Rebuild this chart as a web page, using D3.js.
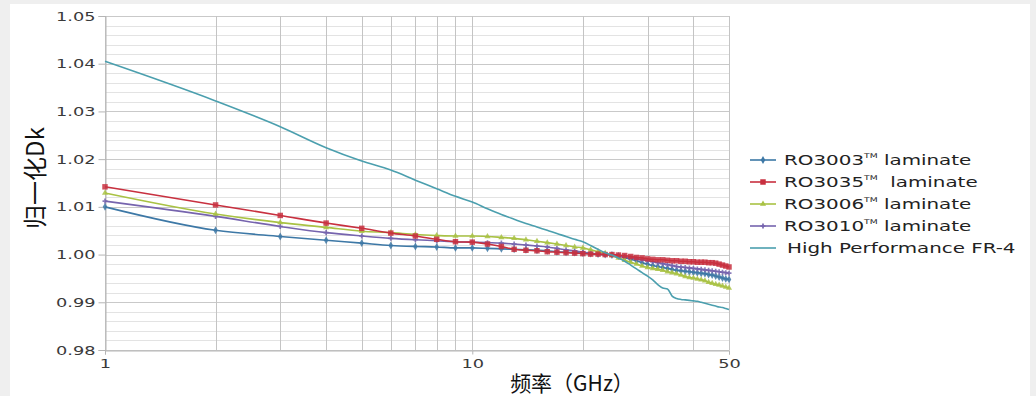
<!DOCTYPE html>
<html><head><meta charset="utf-8">
<script src="https://cdn.jsdelivr.net/npm/d3@7"></script>
<style>
body{margin:0;background:#efefef;}
svg{display:block;}
text{white-space:pre;}
</style></head>
<body><svg id="c" width="1036" height="396"></svg>
<script>
// ---------- data ----------
const freq = [1,2,3,4,5,6,7,8,9,10,11,12,13,14,15,16,17,18,19,20,21,22,23,24,25,26,27,28,29,30,31,32,33,34,35,36,37,38,39,40,41,42,43,44,45,46,47,48,49,50];
const ro3003 = [1.0100,1.0051,1.0038,1.0030,1.0024,1.0019,1.0017,1.0016,1.0014,1.0014,1.0013,1.0012,1.0011,1.0010,1.0009,1.0008,1.0006,1.0005,1.0004,1.0003,1.0002,1.0001,1.0000,0.9999,0.9997,0.9994,0.9990,0.9987,0.9983,0.9980,0.9977,0.9975,0.9973,0.9971,0.9969,0.9967,0.9966,0.9965,0.9964,0.9963,0.9962,0.9961,0.9960,0.9958,0.9957,0.9955,0.9953,0.9951,0.9949,0.9948];
const ro3035 = [1.0142,1.0104,1.0082,1.0066,1.0055,1.0045,1.0039,1.0032,1.0027,1.0026,1.0022,1.0017,1.0011,1.0009,1.0008,1.0006,1.0005,1.0004,1.0003,1.0002,1.0001,1.0001,1.0000,1.0000,0.9999,0.9998,0.9996,0.9994,0.9993,0.9991,0.9990,0.9989,0.9989,0.9988,0.9987,0.9987,0.9986,0.9986,0.9985,0.9985,0.9984,0.9984,0.9984,0.9983,0.9983,0.9982,0.9980,0.9978,0.9976,0.9974];
const ro3006 = [1.0129,1.0085,1.0067,1.0057,1.0049,1.0046,1.0042,1.0040,1.0039,1.0039,1.0038,1.0036,1.0034,1.0031,1.0028,1.0025,1.0022,1.0019,1.0016,1.0014,1.0010,1.0006,1.0003,0.9998,0.9993,0.9988,0.9984,0.9980,0.9976,0.9973,0.9971,0.9969,0.9967,0.9964,0.9962,0.9960,0.9957,0.9954,0.9952,0.9951,0.9949,0.9947,0.9945,0.9942,0.9940,0.9938,0.9936,0.9934,0.9932,0.9930];
const ro3010 = [1.0112,1.0080,1.0059,1.0046,1.0039,1.0034,1.0031,1.0029,1.0027,1.0026,1.0025,1.0024,1.0022,1.0020,1.0018,1.0016,1.0013,1.0010,1.0008,1.0005,1.0003,1.0001,1.0000,0.9999,0.9997,0.9995,0.9993,0.9991,0.9989,0.9987,0.9985,0.9983,0.9981,0.9979,0.9977,0.9975,0.9974,0.9973,0.9972,0.9971,0.9970,0.9969,0.9968,0.9967,0.9966,0.9965,0.9964,0.9963,0.9962,0.9961];
const fr4 = [1.0405,1.0322,1.0268,1.0224,1.0196,1.0177,1.0156,1.0138,1.0122,1.0110,1.0096,1.0084,1.0074,1.0065,1.0058,1.0051,1.0044,1.0038,1.0032,1.0027,1.0019,1.0011,1.0004,0.9999,0.9993,0.9986,0.9978,0.9970,0.9962,0.9955,0.9947,0.9937,0.9930,0.9928,0.9913,0.9908,0.9906,0.9905,0.9904,0.9903,0.9902,0.9900,0.9898,0.9896,0.9894,0.9892,0.9890,0.9889,0.9887,0.9885];
const seriesNames = ["RO3003","RO3035","RO3006","RO3010","High Performance FR-4"];
const xTickLabels = [1,10,50];
const xGrid = [1,2,3,4,5,6,7,8,9,10,20,30,40,50];
const yTickLabels = ["0.98","0.99","1.00","1.01","1.02","1.03","1.04","1.05"];
const yTitle = "归一化Dk";
const xTitle = "频率（GHz）";

// ---------- setup ----------
const svg = d3.select("#c");
svg.append("rect").attr("x",10).attr("y",4).attr("width",1020).attr("height",392).attr("fill","#fff");

const x = d3.scaleLog().domain([1,50]).range([105,729]);
const y = d3.scaleLinear().domain([0.98,1.05]).range([350,16]);
const SX = 1.42; // horizontal stretch of latin text in reference

// minor horizontal grid every 0.002
const minor = d3.range(0,36).map(i => +(0.98 + i*0.002).toFixed(3));
svg.append("g").selectAll("line").data(minor).join("line")
  .attr("x1",x(1)).attr("x2",x(50))
  .attr("y1",d=>Math.round(y(d))+0.5).attr("y2",d=>Math.round(y(d))+0.5)
  .attr("stroke",(d,i)=> i%5===0 ? "#c9c9c9" : "#e3e3e3").attr("stroke-width",1);

// vertical grid
svg.append("g").selectAll("line").data(xGrid).join("line")
  .attr("x1",d=>Math.round(x(d))+0.5).attr("x2",d=>Math.round(x(d))+0.5)
  .attr("y1",y(1.05)).attr("y2",y(0.98))
  .attr("stroke","#c4c4c4").attr("stroke-width",1);

// y axis
const yAxis = d3.axisLeft(y).tickValues(yTickLabels.map(Number)).tickSize(7).tickFormat(d3.format(".2f"));
const gy = svg.append("g").attr("transform",`translate(${Math.round(x(1))+0.5},0)`).call(yAxis);
gy.select(".domain").attr("stroke","#b5b5b5");
gy.selectAll(".tick line").attr("stroke","#b5b5b5");
gy.selectAll(".tick text").attr("font-family","DejaVu Sans").attr("font-size",12.5).attr("fill","#3a3a3a")
  .attr("x",-10/SX).attr("transform",`scale(${SX},1)`);

// x axis
const xAxis = d3.axisBottom(x).tickValues(xTickLabels).tickSize(4).tickFormat(d3.format("d"));
const gx = svg.append("g").attr("transform",`translate(0,${Math.round(y(0.98))+0.5})`).call(xAxis);
gx.select(".domain").attr("stroke","#b5b5b5");
gx.selectAll(".tick line").attr("stroke","#b5b5b5");
gx.selectAll(".tick text").attr("font-family","DejaVu Sans").attr("font-size",12.5).attr("fill","#3a3a3a")
  .attr("y",9).attr("transform",`scale(${SX},1)`);

// titles
svg.append("text").attr("transform","translate(44,178) rotate(-90)").attr("text-anchor","middle")
  .attr("font-family","Noto Sans CJK SC").attr("font-size",24).attr("fill","#111").text(yTitle);
svg.append("text").attr("x",572).attr("y",391).attr("text-anchor","middle")
  .attr("font-family","Noto Sans CJK SC").attr("font-size",21).attr("fill","#111").text(xTitle);

// series
const colors = ["#3d78a6","#c8303f","#a9c244","#7664ae","#4b9fae"];
const symbols = [d3.symbolDiamond, d3.symbolSquare, d3.symbolTriangle, d3.symbolCross, null];
const symSize = [18, 30, 16, 14, 0];
const allVals = [ro3003, ro3035, ro3006, ro3010, fr4];
const drawOrder = [0,3,2,1,4];
const line = d3.line().x(d=>x(d[0])).y(d=>y(d[1])).curve(d3.curveMonotoneX);
drawOrder.forEach(i=>{
  const pts = freq.map((f,k)=>[f, allVals[i][k]]);
  const g = svg.append("g");
  g.append("path").datum(pts).attr("d",line).attr("fill","none").attr("stroke",colors[i]).attr("stroke-width",1.6);
  if (symbols[i]) {
    g.selectAll("path.m").data(pts).join("path").attr("class","m")
      .attr("transform",d=>`translate(${x(d[0])},${y(d[1])})`)
      .attr("d",d3.symbol(symbols[i], symSize[i])).attr("fill",colors[i]).attr("opacity",0.85);
  }
});

// legend
const lg = svg.append("g");
seriesNames.forEach((name,i)=>{
  const cy = 160 + i*22;
  lg.append("line").attr("x1",750).attr("x2",776).attr("y1",cy).attr("y2",cy).attr("stroke",colors[i]).attr("stroke-width",1.6);
  if (symbols[i]) lg.append("path").attr("transform",`translate(763,${cy})`).attr("d",d3.symbol(symbols[i],symSize[i])).attr("fill",colors[i]);
  const t = lg.append("text").attr("transform",`translate(${i===4?787:784},${cy+5}) scale(${SX},1)`)
    .attr("font-family","DejaVu Sans").attr("font-size",14).attr("fill","#222");
  if (i<4) {
    t.append("tspan").text(name);
    t.append("tspan").attr("font-size",6.5).attr("dy",-7).text("TM");
    t.append("tspan").attr("dy",7).text(i===1 ? "  laminate" : " laminate");
  } else {
    t.text(name);
  }
});
</script></body></html>
